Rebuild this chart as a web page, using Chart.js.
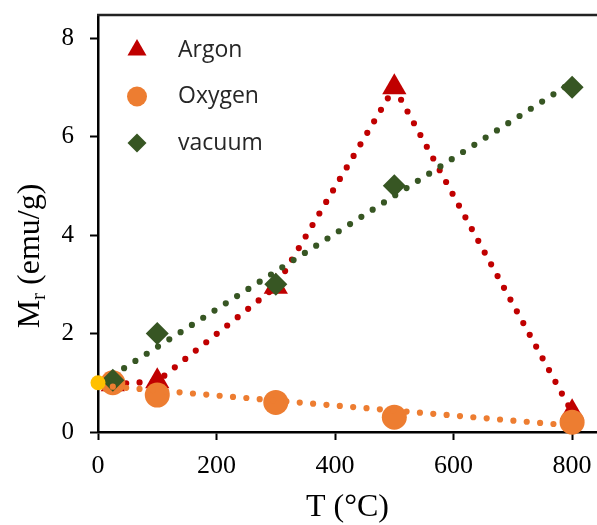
<!DOCTYPE html>
<html>
<head>
<meta charset="utf-8">
<script src="https://cdn.jsdelivr.net/npm/chart.js@4.4.0/dist/chart.umd.min.js"></script>
<style>
  html, body { margin: 0; padding: 0; background: #fff; }
  #wrap { width: 597px; height: 525px; }
</style>
</head>
<body>
<div id="wrap"><canvas id="chart" width="597" height="525"></canvas></div>
<script>
// annealing temperatures (°C)
const temps = [25, 100, 300, 500, 800];
const argon = [0.97, 1.03, 2.95, 7.0, 0.4];
const oxygen = [1.0, 0.75, 0.6, 0.3, 0.2];
const vacuum = [1.05, 2.0, 3.0, 5.0, 7.0];

// as-prepared sample
const startT = [0];
const startM = [1.0];

// dotted trend lines, end points
const trendT = [25, 800];
const oxygenTrend = [0.92, 0.13];
const vacuumTrend = [1.15, 7.1];

const xTicks = [0, 200, 400, 600, 800];
const yTicks = [0, 2, 4, 6, 8];
const legendNames = ["Argon", "Oxygen", "vacuum"];

const RED = "#C00000";
const ORANGE = "#ED7D31";
const GREEN = "#375623";
const GOLD = "#FFC000";

function pts(xs, ys) {
  return xs.map((x, i) => ({ x: x, y: ys[i] }));
}

const dotted = {
  borderWidth: 6.2,
  borderDash: [0, 13.4],
  borderCapStyle: "round"
};

// legend drawn inside the plot area, top left
const innerLegend = {
  id: "innerLegend",
  afterDraw(chart) {
    const ctx = chart.ctx;
    const a = chart.chartArea;
    ctx.save();
    legendNames.forEach((name, i) => {
      const d = chart.data.datasets.find(ds => ds.label === name);
      const y = a.top + 35 + i * 46.5;
      const x = a.left + 39;
      ctx.fillStyle = d.pointBackgroundColor;
      ctx.strokeStyle = d.pointBackgroundColor;
      Chart.helpers.drawPoint(ctx, {
        pointStyle: d.pointStyle,
        radius: d.legendRadius,
        rotation: 0,
        borderWidth: 0
      }, x, y);
      ctx.fillStyle = "#262626";
      ctx.font = "23px 'Open Sans'";
      ctx.textAlign = "left";
      ctx.textBaseline = "middle";
      ctx.fillText(name, a.left + 80, y);
    });
    ctx.restore();
  }
};

// top frame line and the y title with its subscript
const frame = {
  id: "frame",
  afterDraw(chart) {
    const ctx = chart.ctx;
    const a = chart.chartArea;
    ctx.save();
    ctx.strokeStyle = "#222";
    ctx.lineWidth = 2.5;
    ctx.beginPath();
    ctx.moveTo(a.left - 1, a.top);
    ctx.lineTo(a.right, a.top);
    ctx.stroke();

    const big = "32px 'Liberation Serif'";
    const small = "21px 'Liberation Serif'";
    ctx.fillStyle = "#000";
    ctx.textBaseline = "middle";
    ctx.textAlign = "left";
    ctx.font = big;
    const wM = ctx.measureText("M").width;
    const wRest = ctx.measureText(" (emu/g)").width;
    ctx.font = small;
    const wR = ctx.measureText("r").width;
    const total = wM + wR + wRest;
    ctx.translate(31, a.top + 241);
    ctx.rotate(-Math.PI / 2);
    let x = -total / 2;
    ctx.font = big;
    ctx.fillText("M", x, 0);
    x += wM;
    ctx.font = small;
    ctx.fillText("r", x, 8);
    x += wR;
    ctx.font = big;
    ctx.fillText(" (emu/g)", x, 0);
    ctx.restore();
  }
};

function noPadding(s) {
  s.paddingLeft = 0;
  s.paddingRight = 0;
  s.paddingTop = 0;
  s.paddingBottom = 0;
}

new Chart(document.getElementById("chart"), {
  type: "line",
  data: {
    datasets: [
      {
        label: "start",
        data: pts(startT, startM),
        showLine: false,
        pointStyle: "circle",
        pointRadius: 7.5,
        pointBackgroundColor: GOLD,
        pointBorderWidth: 0,
        clip: false,
        order: 0
      },
      {
        label: "Oxygen trend",
        data: pts(trendT, oxygenTrend),
        borderColor: ORANGE,
        ...dotted,
        pointRadius: 0,
        clip: false,
        order: 1
      },
      {
        label: "vacuum trend",
        data: pts(trendT, vacuumTrend),
        borderColor: GREEN,
        ...dotted,
        pointRadius: 0,
        clip: false,
        order: 1
      },
      {
        label: "vacuum",
        legendRadius: 9.5,
        data: pts(temps, vacuum),
        showLine: false,
        pointStyle: "rectRot",
        pointRadius: 11.5,
        pointBackgroundColor: GREEN,
        pointBorderWidth: 0,
        clip: false,
        order: 2
      },
      {
        label: "Oxygen",
        legendRadius: 10,
        data: pts(temps, oxygen),
        showLine: false,
        pointStyle: "circle",
        pointRadius: 12.5,
        pointBackgroundColor: ORANGE,
        pointBorderWidth: 0,
        clip: false,
        order: 3
      },
      {
        label: "Argon",
        legendRadius: 11,
        data: pts(temps, argon),
        borderColor: RED,
        ...dotted,
        pointStyle: "triangle",
        pointRadius: 14,
        pointBackgroundColor: RED,
        pointBorderWidth: 0,
        clip: false,
        order: 4
      }
    ]
  },
  options: {
    responsive: false,
    animation: false,
    devicePixelRatio: 1,
    layout: { autoPadding: false, padding: { top: 15, right: 0, bottom: 0, left: 0 } },
    plugins: {
      legend: { display: false },
      tooltip: { enabled: false }
    },
    scales: {
      x: {
        type: "linear",
        min: 0,
        max: 842,
        afterFit: s => { s.height = 93; noPadding(s); },
        afterBuildTicks: s => { s.ticks = xTicks.map(v => ({ value: v })); },
        border: { display: true, color: "#000", width: 2.5 },
        grid: { drawOnChartArea: false, drawTicks: true, tickLength: 8, tickColor: "#000", tickWidth: 2 },
        ticks: {
          color: "#000",
          padding: 11,
          maxRotation: 0,
          font: { family: "'Liberation Serif'", size: 26 }
        },
        title: {
          display: true,
          text: "T (°C)",
          color: "#000",
          padding: { top: 0, bottom: 0 },
          font: { family: "'Liberation Serif'", size: 32, lineHeight: 1.1 }
        }
      },
      y: {
        type: "linear",
        min: 0,
        max: 8.47,
        afterFit: s => { s.width = 98; noPadding(s); },
        afterBuildTicks: s => { s.ticks = yTicks.map(v => ({ value: v })); },
        border: { display: true, color: "#000", width: 2.5 },
        grid: { drawOnChartArea: false, drawTicks: true, tickLength: 8, tickColor: "#000", tickWidth: 2 },
        ticks: {
          color: "#000",
          padding: 16,
          font: { family: "'Liberation Serif'", size: 25 }
        }
      }
    }
  },
  plugins: [innerLegend, frame]
});
</script>
</body>
</html>
